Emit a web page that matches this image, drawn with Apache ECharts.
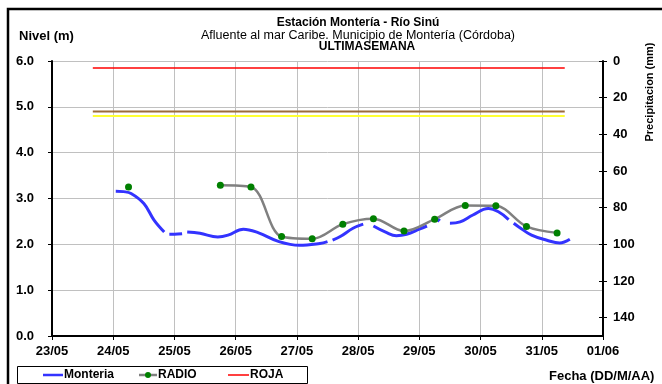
<!DOCTYPE html>
<html>
<head>
<meta charset="utf-8">
<script src="https://cdn.jsdelivr.net/npm/echarts@6/dist/echarts.min.js"></script>
<style>
  html, body { margin: 0; padding: 0; background: #fff; }
  #chart { width: 662px; height: 384px; }
</style>
</head>
<body>
<div id="chart"></div>
<script>
// Day labels along the time axis (one per day, 23/05 .. 01/06)
var dateLabels = ['23/05', '24/05', '25/05', '26/05', '27/05', '28/05', '29/05', '30/05', '31/05', '01/06'];
var levelTicks = [0, 1, 2, 3, 4, 5, 6];
var rainTicks = [0, 20, 40, 60, 80, 100, 120, 140];

// Stage at Montería gauge (m), time as 'DD/MM HH'; null = missing reading
var monteria = [
  ['24/05 01', 3.16], ['24/05 04', 3.15], ['24/05 07', 3.11], ['24/05 12', 2.89],
  ['24/05 16', 2.53], ['24/05 20', 2.27], ['24/05 21', null], ['24/05 22', 2.22],
  ['25/05 00', 2.22], ['25/05 03', 2.23], ['25/05 04', null], ['25/05 05', 2.27],
  ['25/05 10', 2.24], ['25/05 17', 2.16], ['25/05 21', 2.20], ['26/05 03', 2.33],
  ['26/05 09', 2.25], ['26/05 17', 2.06], ['27/05 01', 1.98], ['27/05 09', 2.02],
  ['27/05 12', 2.06], ['27/05 13', null], ['27/05 14', 2.09], ['27/05 17', 2.17],
  ['27/05 22', 2.35], ['28/05 02', 2.44], ['28/05 04', null], ['28/05 06', 2.40],
  ['28/05 11', 2.26], ['28/05 15', 2.19], ['28/05 19', 2.22], ['29/05 00', 2.33],
  ['29/05 03', 2.40], ['29/05 05', null], ['29/05 07', 2.50], ['29/05 08', 2.56],
  ['29/05 10', null], ['29/05 12', 2.46], ['29/05 16', 2.49], ['29/05 21', 2.64],
  ['30/05 03', 2.78], ['30/05 07', 2.71], ['30/05 11', 2.54], ['30/05 12', null],
  ['30/05 13', 2.46], ['30/05 15', 2.38], ['30/05 20', 2.20], ['31/05 02', 2.09],
  ['31/05 07', 2.03], ['31/05 11', 2.11]
];

// Radio-reported readings (m), twice a day
var radio = [
  ['24/05 06', 3.25], ['24/05 18', null], ['25/05 06', null], ['25/05 18', 3.29],
  ['26/05 06', 3.25], ['26/05 18', 2.17], ['27/05 06', 2.12], ['27/05 18', 2.44],
  ['28/05 06', 2.56], ['28/05 18', 2.29], ['29/05 06', 2.55], ['29/05 18', 2.85],
  ['30/05 06', 2.84], ['30/05 18', 2.39], ['31/05 06', 2.25]
];

// Alert thresholds (m) and the span they are drawn over
var alertSpan = ['23/05 16', '31/05 09'];
var rojaLevel = 5.85;
var naranjaLevel = 4.9;
var amarillaLevel = 4.8;

// Legend entries drawn under the plot
var legendItems = ['Monteria', 'RADIO', 'ROJA'];

// 'DD/MM HH' -> days since 23/05 00:00
function toDay(s) {
  var dd = parseInt(s.slice(0, 2), 10);
  var mm = parseInt(s.slice(3, 5), 10);
  var hh = parseInt(s.slice(6, 8), 10);
  var d = (mm === 5 ? dd - 23 : dd + 8);
  return d + hh / 24;
}
function toPoints(arr) {
  return arr.map(function (p) { return [toDay(p[0]), p[1]]; });
}
function flatLine(level) {
  return alertSpan.map(function (t) { return [toDay(t), level]; });
}

var FONT = '"Liberation Sans", Arial, sans-serif';
var BLUE = '#3333ff', GREY = '#808080', GREEN = '#008000', RED = '#ff0000';
var chart = echarts.init(document.getElementById('chart'), null, { renderer: 'canvas' });

// Boxed legend: line samples followed by their labels
var legendY = 375;
var legendGraphics = [
  { type: 'rect', shape: { x: 17.5, y: 366.5, width: 290, height: 17 },
    style: { fill: '#fff', stroke: '#000', lineWidth: 1 } },
  { type: 'line', shape: { x1: 43, y1: legendY, x2: 63, y2: legendY }, style: { stroke: BLUE, lineWidth: 2.5 } },
  { type: 'text', x: 64, y: legendY, style: { text: legendItems[0], font: 'bold 12px ' + FONT, fill: '#000', verticalAlign: 'middle' } },
  { type: 'line', shape: { x1: 139, y1: legendY, x2: 157, y2: legendY }, style: { stroke: GREY, lineWidth: 2.5 } },
  { type: 'circle', shape: { cx: 148, cy: legendY, r: 3 }, style: { fill: GREEN } },
  { type: 'text', x: 158, y: legendY, style: { text: legendItems[1], font: 'bold 12px ' + FONT, fill: '#000', verticalAlign: 'middle' } },
  { type: 'line', shape: { x1: 228, y1: legendY, x2: 249, y2: legendY }, style: { stroke: RED, lineWidth: 1.5 } },
  { type: 'text', x: 250, y: legendY, style: { text: legendItems[2], font: 'bold 12px ' + FONT, fill: '#000', verticalAlign: 'middle' } }
];

var option = {
  animation: false,
  backgroundColor: '#ffffff',
  title: [
    { text: 'Estación Montería - Río Sinú', left: 353, top: 12, textAlign: 'center',
      textStyle: { fontFamily: FONT, fontSize: 12, fontWeight: 'bold', color: '#000' } },
    { text: 'Afluente al mar Caribe. Municipio de Montería (Córdoba)', left: 353, top: 24, textAlign: 'center',
      textStyle: { fontFamily: FONT, fontSize: 12.5, fontWeight: 'normal', color: '#000' } },
    { text: 'ULTIMASEMANA', left: 362, top: 36, textAlign: 'center',
      textStyle: { fontFamily: FONT, fontSize: 12, fontWeight: 'bold', color: '#000' } }
  ],
  graphic: [
    { type: 'rect', z: -10, shape: { x: 8, y: 9, width: 720, height: 420 },
      style: { fill: 'none', stroke: '#000', lineWidth: 2.5 } },
    { type: 'text', x: 19, y: 36, style: { text: 'Nivel (m)', font: 'bold 13px ' + FONT, fill: '#000', verticalAlign: 'middle' } },
    { type: 'text', x: 549, y: 376, style: { text: 'Fecha (DD/M/AA)', font: 'bold 13px ' + FONT, fill: '#000', verticalAlign: 'middle' } },
    { type: 'text', x: 650, y: 92, rotation: Math.PI / 2,
      style: { text: 'Precipitacion (mm)', font: 'bold 11px ' + FONT, fill: '#000', align: 'center', verticalAlign: 'middle' } }
  ].concat(legendGraphics),
  grid: { left: 52, right: 59, top: 61, bottom: 48, containLabel: false },
  xAxis: {
    type: 'value', min: 0, max: dateLabels.length - 1, interval: 1,
    axisLine: { lineStyle: { color: '#000', width: 2 } },
    axisTick: { show: true, length: 4, lineStyle: { color: '#000' } },
    axisLabel: {
      margin: 9, fontFamily: FONT, fontSize: 13, fontWeight: 'bold', color: '#000',
      formatter: function (v) { return dateLabels[Math.round(v)]; }
    },
    splitLine: { show: true, lineStyle: { color: '#c0c0c0', width: 1 } }
  },
  yAxis: [
    {
      type: 'value', min: levelTicks[0], max: levelTicks[levelTicks.length - 1], interval: 1,
      position: 'left',
      axisLine: { show: true, lineStyle: { color: '#000', width: 2 } },
      axisTick: { show: true, length: 4, lineStyle: { color: '#000' } },
      axisLabel: { margin: 18, fontFamily: FONT, fontSize: 13, fontWeight: 'bold', color: '#000',
        formatter: function (v) { return v.toFixed(1); } },
      splitLine: { show: true, lineStyle: { color: '#c0c0c0', width: 1 } }
    },
    {
      type: 'value', min: 0, max: 150, interval: rainTicks[1] - rainTicks[0], inverse: true,
      position: 'right',
      axisLine: { show: true, lineStyle: { color: '#000', width: 2 } },
      axisTick: { show: true, length: 4, lineStyle: { color: '#000' } },
      axisLabel: { margin: 10, fontFamily: FONT, fontSize: 13, fontWeight: 'bold', color: '#000',
        showMaxLabel: false },
      splitLine: { show: false }
    },
    {
      type: 'value', min: 0, max: 150, interval: rainTicks[1] - rainTicks[0], inverse: true,
      position: 'right', offset: 0,
      axisLine: { show: false },
      axisTick: { show: true, inside: true, length: 4, lineStyle: { color: '#000' } },
      axisLabel: { show: false },
      splitLine: { show: false }
    }
  ],
  series: [
    {
      name: 'NARANJA', type: 'line', data: flatLine(naranjaLevel), symbol: 'none',
      lineStyle: { color: '#9b6b3b', width: 2 }, z: 2
    },
    {
      name: 'AMARILLA', type: 'line', data: flatLine(amarillaLevel), symbol: 'none',
      lineStyle: { color: '#ffff33', width: 2 }, z: 2
    },
    {
      name: legendItems[2], type: 'line', data: flatLine(rojaLevel), symbol: 'none',
      lineStyle: { color: RED, width: 1.5 }, z: 2
    },
    {
      name: legendItems[0], type: 'line', data: toPoints(monteria), symbol: 'none',
      smooth: 0.4, connectNulls: false,
      lineStyle: { color: BLUE, width: 3 }, z: 3
    },
    {
      name: legendItems[1], type: 'line', data: toPoints(radio), symbol: 'circle', symbolSize: 7,
      showSymbol: true, smooth: 0.35, connectNulls: false,
      itemStyle: { color: GREEN, borderWidth: 0 },
      lineStyle: { color: GREY, width: 2.5 }, z: 4
    }
  ]
};
chart.setOption(option);
</script>
</body>
</html>
